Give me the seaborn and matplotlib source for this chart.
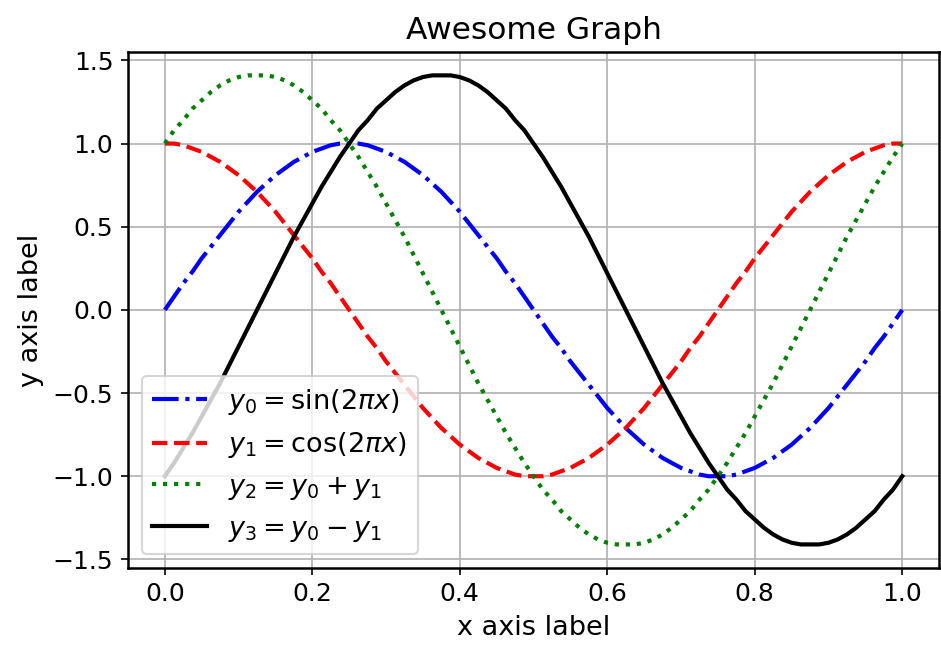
import numpy as np
import pandas as pd
import matplotlib
matplotlib.use("Agg")
import matplotlib.pyplot as plt
import seaborn as sns

x = np.linspace(0.0, 1.0, 81)
y0 = [0, .08, .16, .23, .31, .38, .45, .52, .59, .65, .71, .76, .81, .85, .89, .92, .95, .97, .99, 1.00, 1.00,
      1.00, .99, .97, .95, .92, .89, .85, .81, .76, .71, .65, .59, .52, .45, .38, .31, .23, .16, .08, 0,
      -.08, -.16, -.23, -.31, -.38, -.45, -.52, -.59, -.65, -.71, -.76, -.81, -.85, -.89, -.92, -.95, -.97, -.99, -1.00, -1.00,
      -1.00, -.99, -.97, -.95, -.92, -.89, -.85, -.81, -.76, -.71, -.65, -.59, -.52, -.45, -.38, -.31, -.23, -.16, -.08, 0]
y1 = [1.00, 1.00, .99, .97, .95, .92, .89, .85, .81, .76, .71, .65, .59, .52, .45, .38, .31, .23, .16, .08, 0,
      -.08, -.16, -.23, -.31, -.38, -.45, -.52, -.59, -.65, -.71, -.76, -.81, -.85, -.89, -.92, -.95, -.97, -.99, -1.00, -1.00,
      -1.00, -.99, -.97, -.95, -.92, -.89, -.85, -.81, -.76, -.71, -.65, -.59, -.52, -.45, -.38, -.31, -.23, -.16, -.08, 0,
      .08, .16, .23, .31, .38, .45, .52, .59, .65, .71, .76, .81, .85, .89, .92, .95, .97, .99, 1.00, 1.00]
y2 = [1.00, 1.08, 1.14, 1.21, 1.26, 1.31, 1.35, 1.38, 1.40, 1.41, 1.41,
      1.41, 1.40, 1.38, 1.35, 1.31, 1.26, 1.21, 1.14, 1.08, 1.00, .92, .83, .74, .64, .54, .44, .33, .22, .11, 0,
      -.11, -.22, -.33, -.44, -.54, -.64, -.74, -.83, -.92, -1.00, -1.08, -1.14, -1.21, -1.26, -1.31, -1.35, -1.38, -1.40, -1.41, -1.41,
      -1.41, -1.40, -1.38, -1.35, -1.31, -1.26, -1.21, -1.14, -1.08, -1.00, -.92, -.83, -.74, -.64, -.54, -.44, -.33, -.22, -.11, 0,
      .11, .22, .33, .44, .54, .64, .74, .83, .92, 1.00]
y3 = [-1.00, -.92, -.83, -.74, -.64, -.54, -.44, -.33, -.22, -.11,
      0, .11, .22, .33, .44, .54, .64, .74, .83, .92, 1.00, 1.08, 1.14, 1.21, 1.26, 1.31, 1.35, 1.38, 1.40, 1.41, 1.41,
      1.41, 1.40, 1.38, 1.35, 1.31, 1.26, 1.21, 1.14, 1.08, 1.00, .92, .83, .74, .64, .54, .44, .33, .22, .11, 0,
      -.11, -.22, -.33, -.44, -.54, -.64, -.74, -.83, -.92, -1.00, -1.08, -1.14, -1.21, -1.26, -1.31, -1.35, -1.38, -1.40, -1.41, -1.41,
      -1.41, -1.40, -1.38, -1.35, -1.31, -1.26, -1.21, -1.14, -1.08, -1.00]

labels = [r"$y_0 = \sin(2\pi x)$", r"$y_1 = \cos(2\pi x)$",
          r"$y_2 = y_0 + y_1$", r"$y_3 = y_0 - y_1$"]
colors = ["blue", "red", "green", "black"]
styles = ["-.", "--", ":", "-"]

plt.rcParams["font.size"] = 12
plt.rcParams["axes.linewidth"] = 1.2

fig, ax = plt.subplots(figsize=(941 / 150, 649 / 150), dpi=150)
fig.subplots_adjust(left=0.136, right=0.998, top=0.92, bottom=0.125)

for ys, lab, c, ls in zip([y0, y1, y2, y3], labels, colors, styles):
    df = pd.DataFrame({"x": x, "y": ys})
    sns.lineplot(data=df, x="x", y="y", ax=ax, color=c, linestyle=ls, linewidth=2, label=lab)

ax.grid(True)
ax.set_title("Awesome Graph", fontsize=15)
ax.set_xlabel("x axis label", fontsize=13)
ax.set_ylabel("y axis label", fontsize=13)
ax.legend(loc="lower left", fontsize=13)

fig.savefig("out.png", dpi=150)
